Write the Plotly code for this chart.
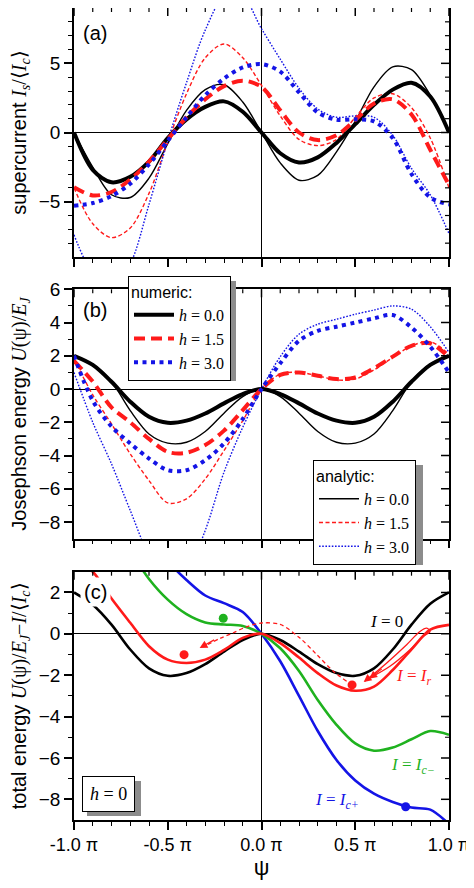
import plotly.graph_objects as go

# ---------------- data (psi in units of pi) ----------------
X = [-1.0, -0.9, -0.8, -0.7, -0.6, -0.5, -0.4, -0.3, -0.2, -0.1, 0.0,
     0.1, 0.2, 0.3, 0.4, 0.5, 0.6, 0.7, 0.8, 0.9, 1.0]

# (a) supercurrent
a_num_h00 = [0, -2.7, -3.6, -3.2, -2.1, -0.4, 0.95, 1.85, 2.25, 1.5, 0,
             -1.5, -2.17, -1.8, -0.75, 0.6, 2.0, 3.1, 3.6, 2.6, 0]
a_num_h15 = [-3.95, -4.55, -4.3, -3.4, -2.1, -0.5, 1.1, 2.4, 3.35, 3.75, 3.3,
             1.6, 0.0, -0.55, -0.2, 0.9, 2.1, 2.4, 1.3, -1.25, -3.8]
a_num_h30 = [-5.3, -5.1, -4.6, -3.7, -2.3, -0.6, 1.1, 2.7, 3.9, 4.7, 4.95,
             4.4, 2.9, 1.45, 0.93, 0.95, 0.8, -0.4, -3.0, -4.7, -5.2]
a_ana_h00 = [0, -2.5, -4.5, -4.7, -3.3, -0.8, 1.6, 3.1, 3.45, 2.2, 0,
             -2.2, -3.45, -3.1, -1.4, 0.8, 3.3, 4.75, 4.55, 2.7, 0]
a_ana_h15 = [-4.0, -6.6, -7.6, -6.9, -4.4, -0.7, 2.8, 5.4, 6.4, 5.4, 3.4,
             1.2, -0.5, -0.95, -0.5, 1.1, 2.5, 2.8, 1.8, -0.4, -4.0]
a_ana_h30 = [-7.4, -10.2, -11.2, -9.5, -5.2, -0.6, 3.6, 7.4, 9.8, 9.8, 7.5,
             5.3, 3.2, 1.7, 1.1, 1.2, 1.1, -0.2, -2.6, -4.5, -7.3]

# (b) Josephson energy
b_num_h00 = [2.0, 1.45, 0.44, -0.76, -1.67, -2.03, -1.9, -1.47, -0.86, -0.3, 0,
             -0.3, -0.86, -1.47, -1.9, -2.03, -1.67, -0.76, 0.44, 1.45, 2.0]
b_num_h15 = [1.7, 0.45, -1.1, -2.0, -3.0, -3.78, -3.83, -3.37, -2.5, -1.27, 0,
             0.85, 1.0, 0.8, 0.6, 0.7, 1.25, 1.95, 2.6, 2.75, 1.9]
b_num_h30 = [2.0, -0.7, -2.25, -3.27, -4.18, -4.88, -4.88, -4.28, -3.27, -1.8, 0,
             1.55, 2.9, 3.5, 3.75, 4.0, 4.25, 4.45, 3.7, 2.55, 1.0]
b_ana_h00 = [2.0, 1.5, 0.45, -1.3, -2.7, -3.25, -3.2, -2.55, -1.45, -0.45, 0,
             -0.45, -1.45, -2.55, -3.2, -3.25, -2.7, -1.3, 0.45, 1.5, 2.0]
b_ana_h15 = [1.8, -0.35, -2.1, -3.9, -5.5, -6.85, -6.6, -5.4, -3.7, -1.9, 0,
             0.9, 1.0, 0.8, 0.55, 0.6, 1.15, 1.9, 2.6, 2.85, 2.1]
b_ana_h30 = [1.0, -2.0, -4.5, -7.3, -10.0, -11.5, -11.0, -8.5, -5.0, -2.3, 0,
             1.95, 3.3, 3.9, 4.2, 4.5, 4.75, 5.0, 4.8, 3.75, 2.2]

# (c) total energy, h = 0
c_I0 = [2.0, 1.4, 0.44, -0.76, -1.67, -2.03, -1.9, -1.47, -0.86, -0.3, 0,
        -0.3, -0.86, -1.47, -1.9, -2.03, -1.67, -0.76, 0.44, 1.45, 2.0]
c_Ir = [3.6, 3.0, 1.7, 0.53, -0.6, -1.25, -1.41, -1.25, -0.78, -0.2, 0,
        -0.45, -1.15, -1.9, -2.5, -2.75, -2.55, -1.75, -0.75, 0.2, 0.43]
c_Icm = [8.7, 7.0, 5.4, 4.0, 2.65, 1.65, 0.95, 0.55, 0.45, 0.38, 0,
         -0.7, -1.8, -3.2, -4.4, -5.3, -5.65, -5.5, -5.1, -4.7, -4.88]
c_Icp = [10.3, 8.8, 7.3, 5.9, 4.6, 3.5, 2.6, 1.85, 1.48, 1.05, 0,
         -1.33, -3.0, -4.7, -6.1, -7.09, -7.73, -8.13, -8.4, -8.5, -9.2]

dots_x = [-0.204, -0.413, 0.483, 0.769]
dots_y = [0.75, -1.01, -2.47, -8.36]
dots_c = ['#1fb21f', '#ff1a1a', '#ff1a1a', '#1414e6']

path_x = [0.454, 0.383, 0.294, 0.205, 0.1, 0.0, -0.076, -0.15, -0.218, -0.31]
path_y = [-2.29, -1.81, -1.0, -0.21, 0.45, 0.52, 0.35, 0.05, -0.21, -0.62]

loop_x = [0.552, 0.668, 0.774, 0.845, 0.881, 0.899, 0.863, 0.792, 0.685, 0.579]
loop_y = [-2.29, -1.41, -0.53, 0.11, 0.27, 0.11, -0.13, -0.77, -1.57, -2.13]

h_labels = ['<i>h</i> = 0.0', '<i>h</i> = 1.5', '<i>h</i> = 3.0']
xtick_vals = [-1.0, -0.5, 0.0, 0.5, 1.0]
xtick_text = ['-1.0 \u03c0', '-0.5 \u03c0', '0.0 \u03c0', '0.5 \u03c0', '1.0 \u03c0']
x_minor = [-0.9, -0.8, -0.7, -0.6, -0.4, -0.3, -0.2, -0.1, 0.1, 0.2, 0.3, 0.4, 0.6, 0.7, 0.8, 0.9]

BLACK = 'black'
RED = '#ff1a1a'
BLUE = '#1414e6'
GREEN = '#1fb21f'

SANS = 'Liberation Sans, Arial, sans-serif'
SERIF = 'Liberation Serif, Times New Roman, serif'

# page body has an 8px margin: figure is drawn 8px right/down of the window corner
W, H = 466, 880
ML, MR, MT, MB = 66, 25, 0, 68
PW, PH = W - ML - MR, H - MT - MB  # 375 x 812

fig = go.Figure()


def add(y, xa, ya, color, width, dash, name=None, legend=None, x=X):
    fig.add_trace(go.Scatter(
        x=x, y=y, xaxis=xa, yaxis=ya, mode='lines',
        line=dict(color=color, width=width, dash=dash, shape='spline', smoothing=0.9),
        name=name, legend=legend, showlegend=name is not None, hoverinfo='skip'))


THIN = 1.4
DOT_THICK = '4px,4.5px'
# panel (a): analytic (thin) first, numeric (thick) on top
add(a_ana_h00, 'x', 'y', BLACK, THIN, 'solid', h_labels[0], 'legend2')
add(a_ana_h15, 'x', 'y', RED, THIN, '4px,2.5px', h_labels[1], 'legend2')
add(a_ana_h30, 'x', 'y', BLUE, THIN, '1.6px,1.6px', h_labels[2], 'legend2')
add(a_num_h00, 'x', 'y', BLACK, 4, 'solid', h_labels[0], 'legend')
add(a_num_h15, 'x', 'y', RED, 4, '11px,6px', h_labels[1], 'legend')
add(a_num_h30, 'x', 'y', BLUE, 4, DOT_THICK, h_labels[2], 'legend')

# panel (b)
add(b_ana_h00, 'x2', 'y2', BLACK, THIN, 'solid')
add(b_ana_h15, 'x2', 'y2', RED, THIN, '4px,2.5px')
add(b_ana_h30, 'x2', 'y2', BLUE, THIN, '1.6px,1.6px')
add(b_num_h00, 'x2', 'y2', BLACK, 4, 'solid')
add(b_num_h15, 'x2', 'y2', RED, 4, '11px,6px')
add(b_num_h30, 'x2', 'y2', BLUE, 4, DOT_THICK)

# panel (c)
add(c_I0, 'x3', 'y3', BLACK, 2.6, 'solid')
add(c_Icp, 'x3', 'y3', BLUE, 2.6, 'solid')
add(c_Icm, 'x3', 'y3', GREEN, 2.6, 'solid')
add(c_Ir, 'x3', 'y3', RED, 2.6, 'solid')
add(path_y, 'x3', 'y3', RED, 1.3, '4px,3px', x=path_x)
add(loop_y, 'x3', 'y3', RED, 1.3, 'solid', x=loop_x)
fig.add_trace(go.Scatter(x=dots_x, y=dots_y, xaxis='x3', yaxis='y3', mode='markers',
                         marker=dict(color=dots_c, size=9), showlegend=False, hoverinfo='skip'))


def px2paper(sx, sy):
    """screen pixel (window) -> paper coords"""
    return (sx - 8 - ML) / PW, 1 - (sy - 8 - MT) / PH


# ---------------- axes ----------------
TICKFONT = dict(family=SANS, size=19, color='black')
XTICKFONT = dict(family=SANS, size=18, color='black')
TITLEFONT = dict(family=SANS, size=20, color='black')

domains = {1: [px2paper(0, 257)[1], 1.0],
           2: [px2paper(0, 538.7)[1], px2paper(0, 289.3)[1]],
           3: [0.0, px2paper(0, 571.7)[1]]}
yranges = {1: [-9, 9], 2: [-9, 6], 3: [-9, 3]}
yticks = {1: [-5, 0, 5], 2: [-8, -6, -4, -2, 0, 2, 4, 6], 3: [-8, -6, -4, -2, 0, 2]}

ser = "<span style='font-family:Liberation Serif'>"
ytitles = {
    1: "supercurrent " + ser + "<i>I<sub>s</sub></i>/\u27e8<i>I<sub>c</sub></i>\u27e9</span>",
    2: "Josephson energy " + ser + "<i>U</i>(\u03c8)/<i>E<sub>J</sub></i></span>",
    3: "total energy " + ser + "<i>U</i>(\u03c8)/<i>E<sub>J</sub></i>\u2212<i>I</i>/\u27e8<i>I<sub>c</sub></i>\u27e9</span>",
}

layout = dict(
    width=W, height=H,
    margin=dict(l=ML, r=MR, t=MT, b=MB, autoexpand=False),
    paper_bgcolor='white', plot_bgcolor='white',
    showlegend=True,
)

shapes = []
MAJ, MIN = 8, 4
for i in (1, 2, 3):
    xs = '' if i == 1 else str(i)
    xname = 'x' + xs
    yname = 'y' + xs
    layout['xaxis' + xs] = dict(
        domain=[0, 1], anchor=yname, range=[-1, 1], automargin=False,
        showline=True, linecolor='black', linewidth=1.5, mirror=True,
        ticks='outside', ticklen=MAJ, tickwidth=1.5, tickcolor='black',
        tickvals=xtick_vals, ticktext=xtick_text, showticklabels=(i == 3),
        tickfont=XTICKFONT,
        minor=dict(tickvals=x_minor, ticks='outside', ticklen=MIN, tickwidth=1.2, tickcolor='black', showgrid=False),
        showgrid=False, zeroline=True, zerolinecolor='black', zerolinewidth=1.2,
    )
    y_minor = [v for v in range(yranges[i][0] + 1, yranges[i][1]) if v not in yticks[i]]
    layout['yaxis' + xs] = dict(
        domain=domains[i], anchor=xname, range=yranges[i], automargin=False,
        showline=True, linecolor='black', linewidth=1.5, mirror=True,
        ticks='outside', ticklen=MAJ, tickwidth=1.5, tickcolor='black',
        tickvals=yticks[i], tickfont=TICKFONT,
        minor=dict(tickvals=y_minor, ticks='outside', ticklen=MIN, tickwidth=1.2, tickcolor='black', showgrid=False),
        showgrid=False, zeroline=True, zerolinecolor='black', zerolinewidth=1.2,
        title=dict(text=ytitles[i], font=TITLEFONT, standoff=13),
    )
    # inward ticks on the top and right frame (mirrored axes)
    hpx = (domains[i][1] - domains[i][0]) * PH
    for vals, L, w in ((xtick_vals, MAJ, 1.5), (x_minor, MIN, 1.2)):
        for v in vals:
            shapes.append(dict(type='line', xref=xname, yref=yname + ' domain', x0=v, x1=v,
                               y0=1, y1=1 - L / hpx, line=dict(color='black', width=w), layer='above'))
    for vals, L, w in ((yticks[i], MAJ, 1.5), (y_minor, MIN, 1.2)):
        for v in vals:
            shapes.append(dict(type='line', xref=xname + ' domain', yref=yname, x0=1, x1=1 - L / PW,
                               y0=v, y1=v, line=dict(color='black', width=w), layer='above'))

layout['xaxis3']['title'] = dict(text='\u03c8', font=dict(family=SANS, size=22, color='black'), standoff=4)

LEGFONT = dict(family=SERIF, size=16, color='black')
lx1, ly1 = px2paper(128, 276)
lx2, ly2 = px2paper(313, 460)
layout['legend'] = dict(
    x=lx1, y=ly1, xanchor='left', yanchor='top',
    bgcolor='white', bordercolor='black', borderwidth=1,
    font=LEGFONT, title=dict(text='numeric:', font=dict(family=SANS, size=16, color='black')),
    itemwidth=40, tracegroupgap=0,
)
layout['legend2'] = dict(
    x=lx2, y=ly2, xanchor='left', yanchor='top',
    bgcolor='white', bordercolor='black', borderwidth=1,
    font=LEGFONT, title=dict(text='analytic:', font=dict(family=SANS, size=16, color='black')),
    itemwidth=40, tracegroupgap=0,
)

# drop shadows of legend boxes and of the "h = 0" box
for (x0, y0, x1, y1) in [(133, 281, 236, 381), (318, 465, 423, 565), (87, 781, 141, 816)]:
    a0, b0 = px2paper(x0, y1)
    a1, b1 = px2paper(x1, y0)
    shapes.append(dict(type='rect', xref='paper', yref='paper', x0=a0, y0=b0, x1=a1, y1=b1,
                       fillcolor='#8c8c8c', line=dict(width=0), layer='above'))
layout['shapes'] = shapes

ann = []
for txt, sy in [('(a)', 33), ('(b)', 310)]:
    ax_, ay_ = px2paper(95, sy)
    ann.append(dict(text=txt, x=ax_, y=ay_, xref='paper', yref='paper', showarrow=False,
                    xanchor='center', yanchor='middle',
                    font=dict(family=SANS, size=20, color='black')))
ax_, ay_ = px2paper(95, 592)
ann.append(dict(text='(c)', x=ax_, y=ay_, xref='paper', yref='paper', showarrow=False,
                xanchor='center', yanchor='middle',
                font=dict(family=SANS, size=20, color='black'), bgcolor='white', borderpad=3))
ax_, ay_ = px2paper(108.5, 793.5)
ann.append(dict(text='<i>h</i> = 0', x=ax_, y=ay_, xref='paper', yref='paper', showarrow=False,
                xanchor='center', yanchor='middle',
                font=dict(family=SERIF, size=18, color='black'), bgcolor='white',
                bordercolor='black', borderwidth=1, borderpad=7))

CFONT = lambda c: dict(family=SERIF, size=17, color=c)
ann.append(dict(text='<i>I</i> = 0', x=0.668, y=0.6, xref='x3', yref='y3', showarrow=False, font=CFONT(BLACK)))
ann.append(dict(text='<i>I</i> = <i>I<sub>r</sub></i>', x=0.81, y=-2.1, xref='x3', yref='y3', showarrow=False, font=CFONT(RED)))
ann.append(dict(text='<i>I</i> = <i>I<sub>c\u2212</sub></i>', x=0.81, y=-6.4, xref='x3', yref='y3', showarrow=False, font=CFONT(GREEN)))
ann.append(dict(text='<i>I</i> = <i>I<sub>c+</sub></i>', x=0.40, y=-8.1, xref='x3', yref='y3', showarrow=False, font=CFONT(BLUE)))

# arrow heads
for (hx, hy, axp, ayp) in [(-0.33, -0.69, 16, -9), (0.545, -2.33, 14, -11), (0.575, -2.17, 14, -11)]:
    ann.append(dict(text='', x=hx, y=hy, xref='x3', yref='y3', ax=axp, ay=ayp,
                    showarrow=True, arrowhead=2, arrowsize=1.3, arrowwidth=1.2, arrowcolor=RED))
layout['annotations'] = ann

fig.update_layout(**layout)
fig.write_html('out.html')
